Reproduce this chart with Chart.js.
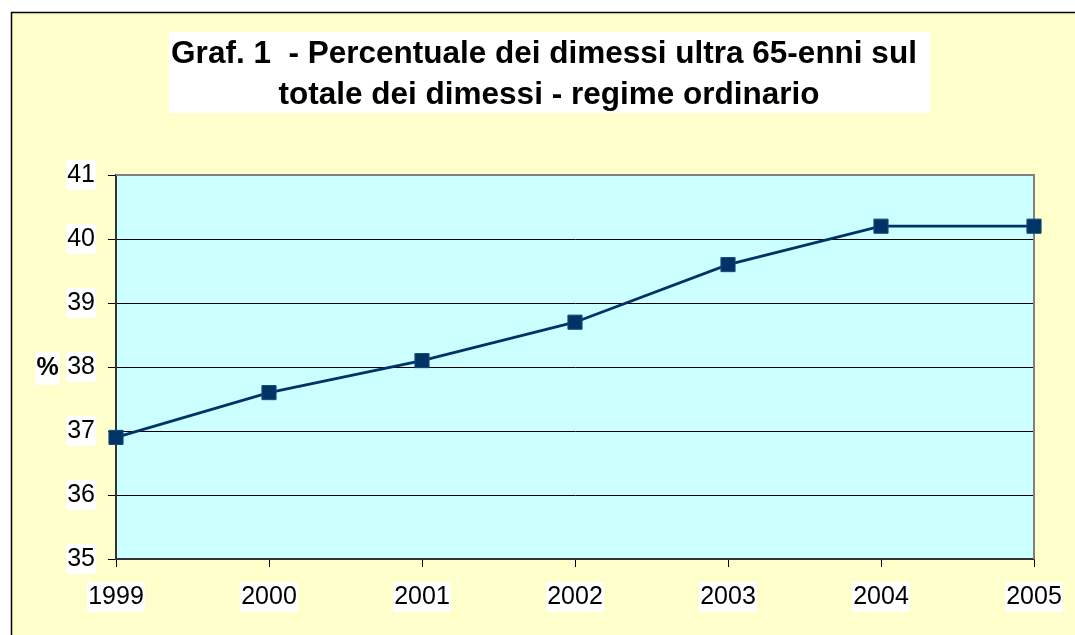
<!DOCTYPE html>
<html><head><meta charset="utf-8">
<script src="https://cdn.jsdelivr.net/npm/chart.js@4/dist/chart.umd.min.js"></script>
<style>html,body{margin:0;padding:0;background:#fff}#wrap{width:1075px;height:635px;position:relative}</style>
</head><body><div id="wrap"><canvas id="c" width="1075" height="635"></canvas></div>
<script>
const years = ['1999','2000','2001','2002','2003','2004','2005'];
const percentValues = [36.9, 37.6, 38.1, 38.7, 39.6, 40.2, 40.2];
const yMin = 35;
const yMax = 41;
const yStep = 1;
const titleLines = ['Graf. 1  - Percentuale dei dimessi ultra 65-enni sul', 'totale dei dimessi - regime ordinario'];
const yAxisLabel = '%';

const FONT = '"Liberation Sans", Arial, sans-serif';

const decor = {
  id: 'decor',
  beforeDraw(chart) {
    const ctx = chart.ctx;
    const a = chart.chartArea;
    ctx.save();
    ctx.fillStyle = '#ffffff';
    ctx.fillRect(0, 0, chart.width, chart.height);
    ctx.fillStyle = '#FFFFCC';
    ctx.fillRect(11, 12, chart.width - 11, chart.height - 12);
    ctx.strokeStyle = '#000';
    ctx.lineWidth = 1.5;
    ctx.beginPath();
    ctx.moveTo(11.5, chart.height);
    ctx.lineTo(11.5, 12.5);
    ctx.lineTo(chart.width, 12.5);
    ctx.stroke();
    ctx.fillStyle = '#ffffff';
    ctx.fillRect(169, 32, 761, 81);
    ctx.fillStyle = '#000';
    ctx.font = 'bold 31.5px ' + FONT;
    ctx.textAlign = 'center';
    ctx.textBaseline = 'alphabetic';
    ctx.fillText(titleLines[0], 544, 63);
    ctx.fillText(titleLines[1], 549, 104);
    ctx.fillStyle = '#CCFFFF';
    ctx.fillRect(a.left, a.top, a.right - a.left, a.bottom - a.top);
    ctx.font = 'bold 25px ' + FONT;
    const w = ctx.measureText(yAxisLabel).width;
    ctx.fillStyle = '#ffffff';
    ctx.fillRect(47.5 - w / 2 - 1, 352, w + 2, 33);
    ctx.fillStyle = '#000';
    ctx.textBaseline = 'middle';
    ctx.fillText(yAxisLabel, 47.5, 368);
    ctx.restore();
  },
  beforeDatasetsDraw(chart) {
    const ctx = chart.ctx;
    const a = chart.chartArea;
    ctx.save();
    ctx.strokeStyle = '#808080';
    ctx.lineWidth = 2;
    ctx.beginPath();
    ctx.moveTo(a.left, a.top);
    ctx.lineTo(a.right, a.top);
    ctx.lineTo(a.right, a.bottom);
    ctx.stroke();
    ctx.restore();
  }
};

new Chart(document.getElementById('c'), {
  type: 'line',
  data: {
    labels: years,
    datasets: [{
      data: percentValues,
      borderColor: '#003366',
      backgroundColor: '#003366',
      borderWidth: 2.8,
      pointStyle: 'rect',
      pointRadius: 10,
      pointHoverRadius: 10,
      pointBorderWidth: 1,
      pointBorderColor: '#1a4a7a',
      pointBackgroundColor: '#003366',
      tension: 0,
      clip: false
    }]
  },
  plugins: [decor],
  options: {
    responsive: false,
    animation: false,
    devicePixelRatio: 1,
    layout: { padding: { top: 175, left: 12, right: 41, bottom: 0 } },
    plugins: { legend: { display: false }, title: { display: false }, tooltip: { enabled: false } },
    scales: {
      x: {
        type: 'category',
        offset: false,
        afterFit(scale) { scale.height = 76; scale.paddingRight = 0; scale.paddingLeft = 0; },
        grid: { display: true, drawOnChartArea: false, drawTicks: true, tickLength: 8, tickColor: '#000', tickWidth: 1 },
        border: { display: true, color: '#333', width: 2 },
        ticks: {
          color: '#000', font: { family: FONT, size: 25 }, padding: 15,
          maxRotation: 0, autoSkip: false,
          showLabelBackdrop: true, backdropColor: '#ffffff', backdropPadding: { x: 1, y: 0 }
        }
      },
      y: {
        min: yMin, max: yMax,
        afterFit(scale) { scale.width = 104; },
        grid: { color: '#000', lineWidth: 1, drawTicks: true, tickLength: 8, tickColor: '#000' },
        border: { display: true, color: '#333', width: 2 },
        ticks: {
          stepSize: yStep, color: '#000', font: { family: FONT, size: 25 }, padding: 13,
          showLabelBackdrop: true, backdropColor: '#ffffff', backdropPadding: { x: 1, y: 0 }
        }
      }
    }
  }
});
</script></body></html>
